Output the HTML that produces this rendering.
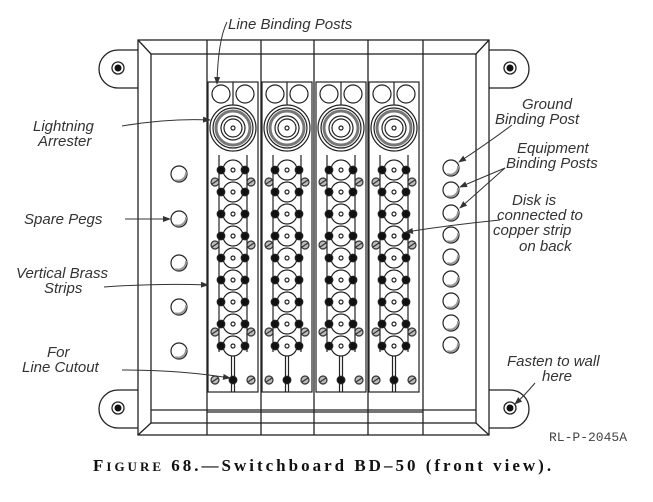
<!DOCTYPE html>
<html><head><meta charset="utf-8"><style>
html,body{margin:0;padding:0;background:#fff}
svg{display:block}
.l{font-family:"Liberation Sans",sans-serif;font-style:italic;font-size:15px;fill:#333}
</style></head><body>
<svg width="653" height="502" viewBox="0 0 653 502" xmlns="http://www.w3.org/2000/svg">
<defs>
<marker id="ar" markerWidth="8" markerHeight="6" refX="7" refY="3" orient="auto"><path d="M0 0 L8 3 L0 6 Z" fill="#333"/></marker>
<g id="disk">
<circle r="10" fill="#fff" stroke="#222" stroke-width="1.2"/>
<circle r="2" fill="none" stroke="#222"/>
<circle cx="-12" r="3.8" fill="#111"/><circle cx="12" r="3.8" fill="#111"/>
</g>
<g id="scr"><circle r="4" fill="#bbb" stroke="#333"/><line x1="-3" y1="2" x2="3" y2="-2" stroke="#333"/></g>
<g id="col" stroke="#222" fill="none" stroke-width="1.2">
<rect x="-25" y="82" width="50" height="310"/>
<line x1="0" y1="82" x2="0" y2="108"/>
<line x1="-1.5" y1="355" x2="-1.5" y2="392"/><line x1="1.5" y1="355" x2="1.5" y2="392"/>
<circle cx="-12" cy="94" r="9"/><circle cx="12" cy="94" r="9"/>
<circle cx="0" cy="128" r="23" fill="#fff"/><circle cx="0" cy="128" r="20"/><circle cx="0" cy="128" r="17" stroke="#777" stroke-width="3"/>
<circle cx="0" cy="128" r="12" fill="#fff"/><circle cx="0" cy="128" r="9"/><circle cx="0" cy="128" r="2"/>
<path d="M-14 155 V352 M14 155 V352"/>
<use href="#disk" y="170"/><use href="#disk" y="192"/><use href="#disk" y="214"/><use href="#disk" y="236"/><use href="#disk" y="258"/><use href="#disk" y="280"/><use href="#disk" y="302"/><use href="#disk" y="324"/><use href="#disk" y="346"/>
<use href="#scr" x="-18" y="182"/><use href="#scr" x="18" y="182"/>
<use href="#scr" x="-18" y="245"/><use href="#scr" x="18" y="245"/>
<use href="#scr" x="-18" y="332"/><use href="#scr" x="18" y="332"/>
<use href="#scr" x="-18" y="380"/><use href="#scr" x="18" y="380"/>
<circle cx="0" cy="380" r="3.8" fill="#111"/>
</g>
<g id="peg"><circle r="8" fill="#fff" stroke="#222" stroke-width="1.2"/><path d="M-4 6 A8 8 0 0 0 7 -2" stroke="#999" stroke-width="2" fill="none"/></g>
</defs>
<g stroke="#222" stroke-width="1.3" fill="none">
<path d="M140 50 H118 A19 19 0 0 0 118 88 H140"/>
<path d="M140 390 H118 A19 19 0 0 0 118 428 H140"/>
<path d="M488 50 H510 A19 19 0 0 1 510 88 H488"/>
<path d="M488 390 H510 A19 19 0 0 1 510 428 H488"/>
<rect x="138" y="40" width="351" height="395" fill="#fff"/>
<rect x="151" y="54" width="325" height="369"/>
<path d="M138 40 L151 54 M489 40 L476 54 M138 435 L151 423 M489 435 L476 423"/>
<path d="M207 40 V435 M261 40 V435 M314 40 V435 M368 40 V435 M423 40 V435"/>
<path d="M151 410 H476 M207 412 H423"/>
</g>
<g fill="#fff" stroke="#222" stroke-width="1.3">
<circle cx="118" cy="68" r="6"/><circle cx="510" cy="68" r="6"/><circle cx="118" cy="408" r="6"/><circle cx="510" cy="408" r="6"/>
</g>
<g fill="#111"><circle cx="118" cy="68" r="3.5"/><circle cx="510" cy="68" r="3.5"/><circle cx="118" cy="408" r="3.5"/><circle cx="510" cy="408" r="3.5"/></g>
<use href="#col" x="233"/><use href="#col" x="287"/><use href="#col" x="341"/><use href="#col" x="394"/>
<use href="#peg" x="179" y="174"/><use href="#peg" x="179" y="219"/><use href="#peg" x="179" y="263"/><use href="#peg" x="179" y="307"/><use href="#peg" x="179" y="351"/>
<use href="#peg" x="451" y="168"/><use href="#peg" x="451" y="190"/><use href="#peg" x="451" y="213"/><use href="#peg" x="451" y="235"/><use href="#peg" x="451" y="257"/><use href="#peg" x="451" y="279"/><use href="#peg" x="451" y="301"/><use href="#peg" x="451" y="323"/><use href="#peg" x="451" y="345"/>
<g stroke="#333" stroke-width="1" fill="none" marker-end="url(#ar)">
<path d="M227 22 Q218 40 217 84"/>
<path d="M122 126 Q170 118 210 120"/>
<path d="M125 219 L170 219"/>
<path d="M104 287 Q160 283 208 285"/>
<path d="M122 370 Q180 370 230 378"/>
<path d="M512 125 Q485 145 459 162"/>
<path d="M505 168 L460 187"/><path d="M505 168 L460 208"/>
<path d="M500 220 Q450 225 406 232"/>
<path d="M535 383 Q525 395 515 404"/>
</g>
<text class="l" x="228" y="29">Line Binding Posts</text>
<text class="l" x="33" y="131">Lightning</text>
<text class="l" x="38" y="146">Arrester</text>
<text class="l" x="24" y="224">Spare Pegs</text>
<text class="l" x="16" y="278">Vertical Brass</text>
<text class="l" x="44" y="293">Strips</text>
<text class="l" x="47" y="357">For</text>
<text class="l" x="22" y="372">Line Cutout</text>
<text class="l" x="522" y="109">Ground</text>
<text class="l" x="495" y="124">Binding Post</text>
<text class="l" x="517" y="153">Equipment</text>
<text class="l" x="506" y="168">Binding Posts</text>
<text class="l" x="512" y="205">Disk is</text>
<text class="l" x="497" y="220">connected to</text>
<text class="l" x="493" y="235">copper strip</text>
<text class="l" x="519" y="251">on back</text>
<text class="l" x="507" y="366">Fasten to wall</text>
<text class="l" x="542" y="381">here</text>
<text x="549" y="441" style="font-family:'Liberation Mono',monospace;font-size:13px;fill:#444">RL-P-2045A</text>
<text x="93" y="471" style="font-family:'Liberation Serif',serif;font-weight:bold;font-size:17px;letter-spacing:3px;fill:#111">F<tspan font-size="13">IGURE</tspan> 68.—Switchboard BD–50 (front view).</text>
</svg>
</body></html>
